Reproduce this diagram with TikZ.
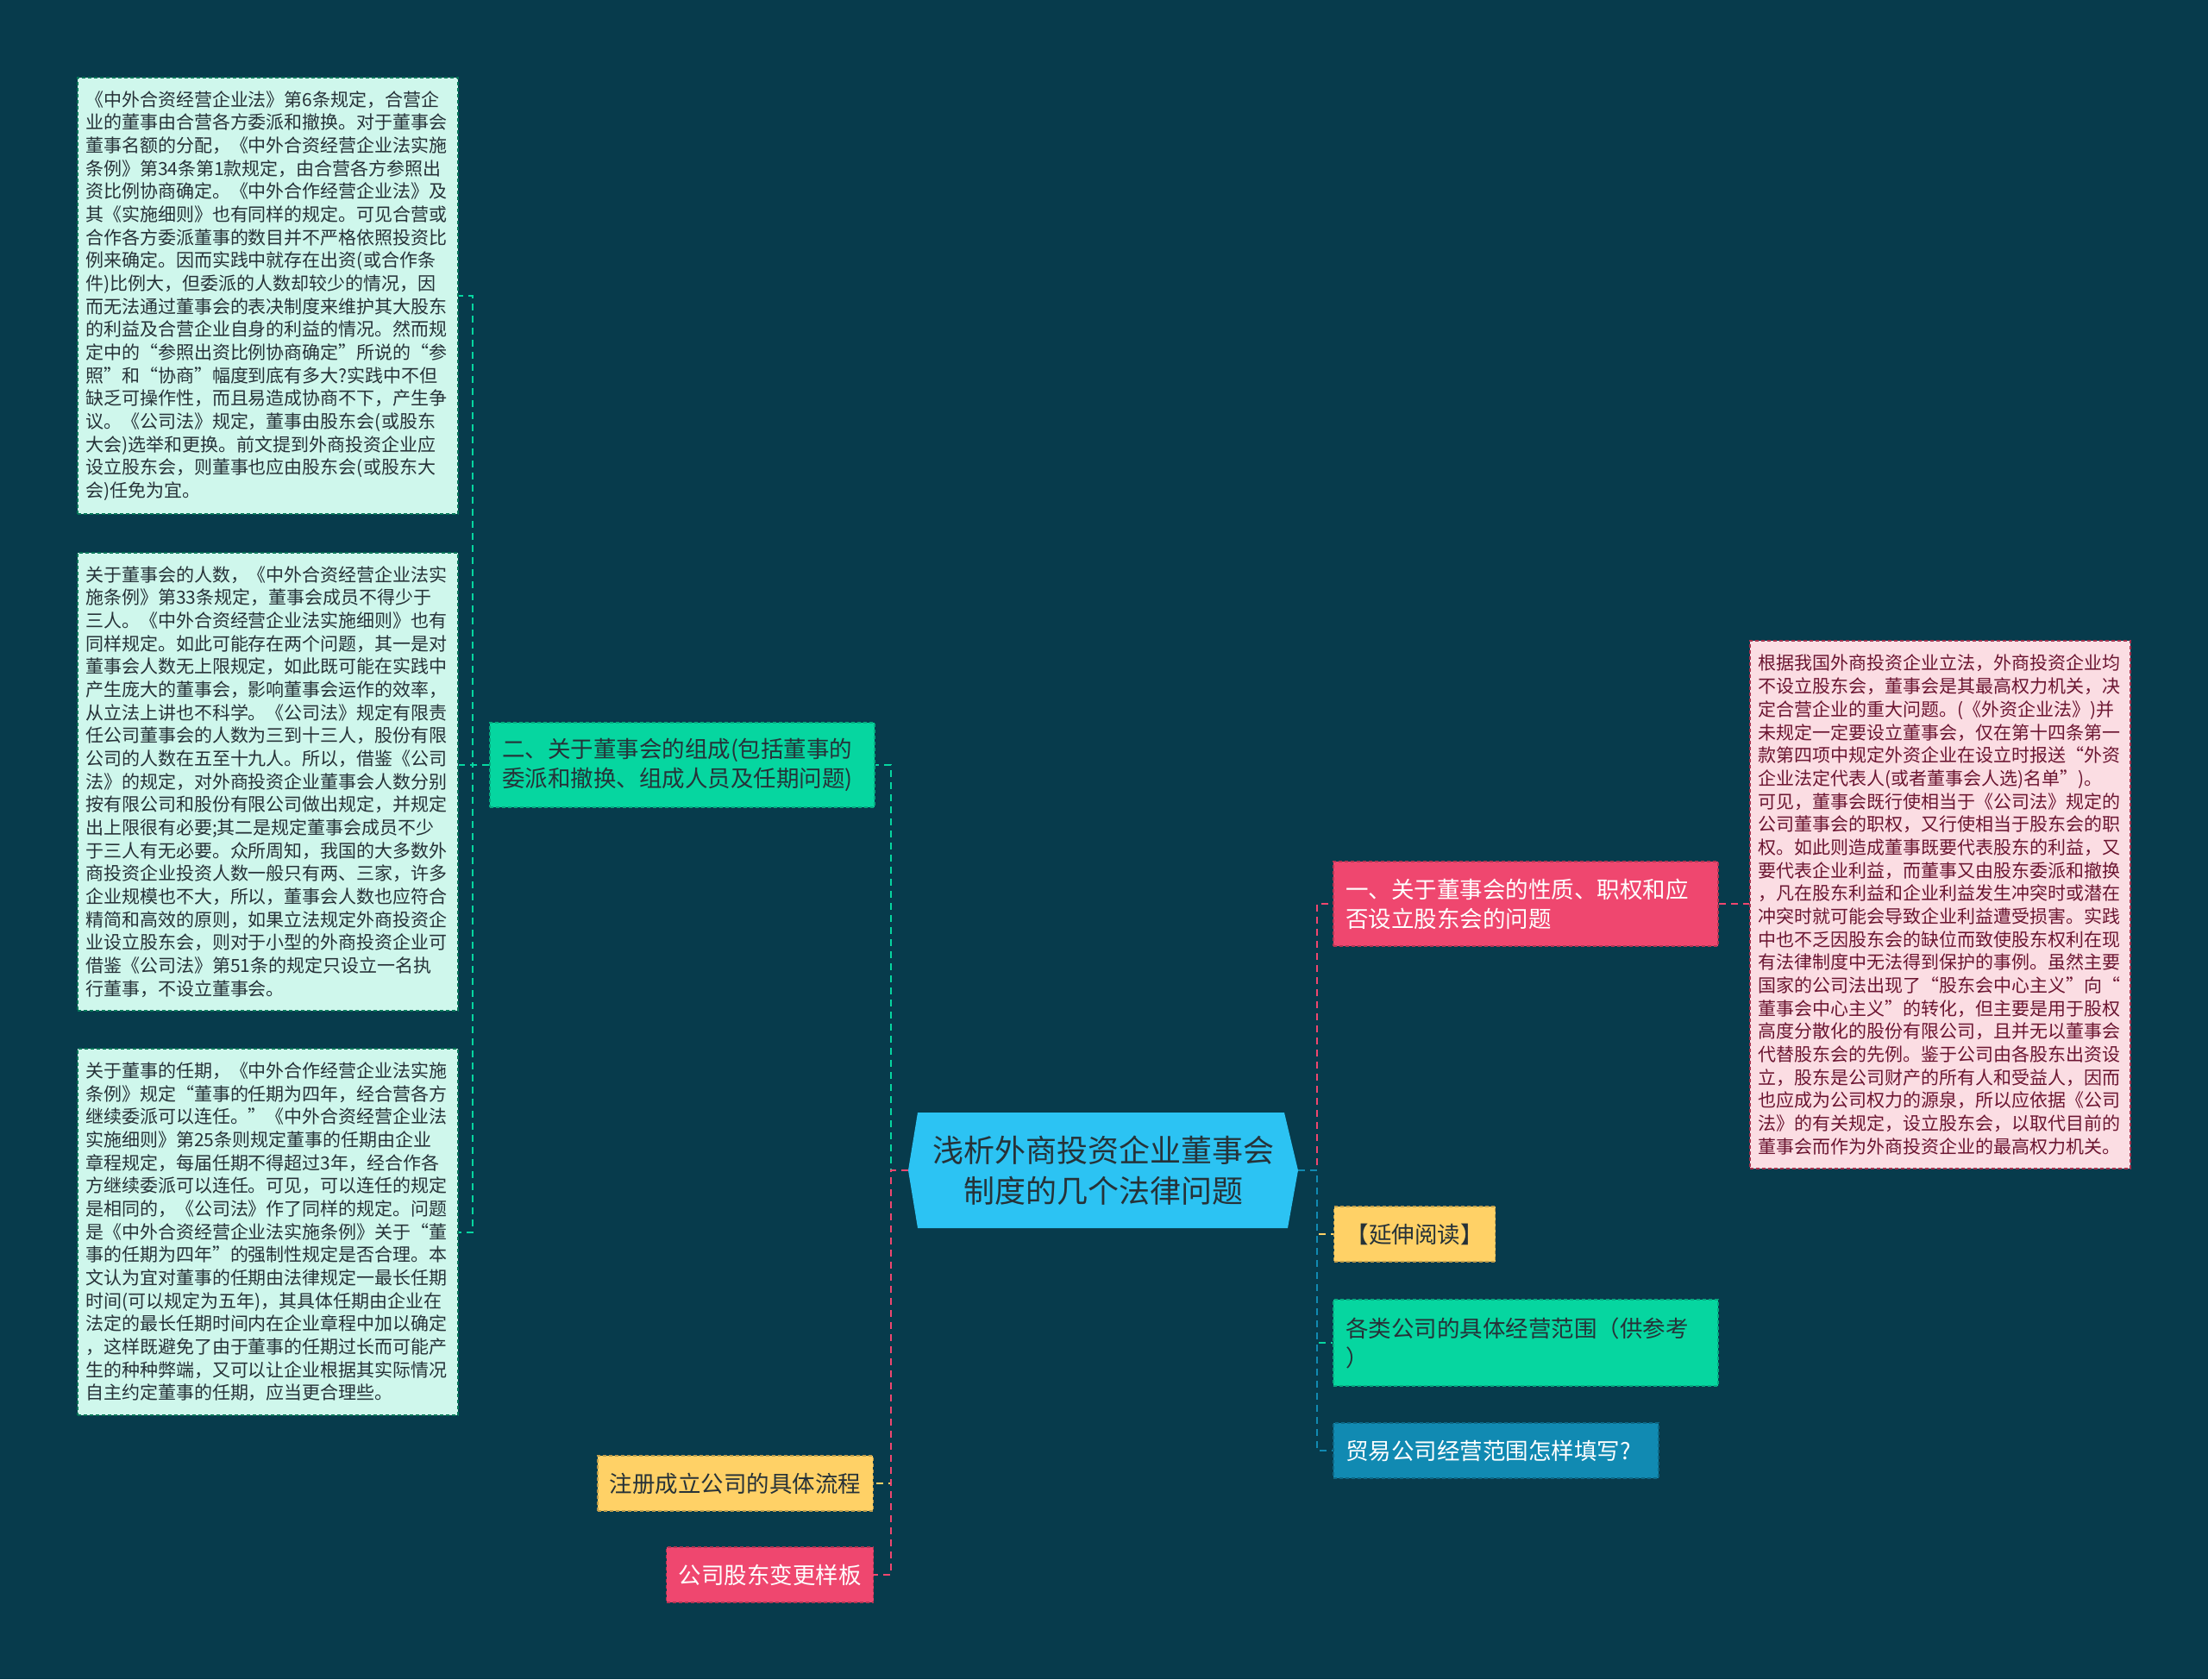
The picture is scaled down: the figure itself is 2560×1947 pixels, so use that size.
\documentclass[tikz,border=0pt]{standalone}
\usepackage{fontspec}
\setmainfont{Noto Sans CJK SC}
\definecolor{bg}{HTML}{073B4C}
\definecolor{cblue}{HTML}{2CC3F3}
\definecolor{cgreen}{HTML}{06D6A0}
\definecolor{cred}{HTML}{EF476F}
\definecolor{cyellow}{HTML}{FFD166}
\definecolor{cdblue}{HTML}{118AB2}
\definecolor{mint}{HTML}{CFF7EC}
\definecolor{pinkbox}{HTML}{FBDDE3}
\definecolor{darktext}{HTML}{263238}
\definecolor{maroon}{HTML}{6B1531}
\tikzset{
  conn/.style={line width=2pt, dash pattern=on 8pt off 6pt},
  branch/.style={rectangle, inner xsep=14pt, inner ysep=0pt, minimum height=64pt,
    font=\fontsize{26.5}{34}\selectfont, line width=1.5pt, dash pattern=on 4pt off 3pt},
  notebox/.style={rectangle, inner xsep=9pt, inner ysep=0pt, minimum width=441pt,
    text width=423pt, align=left, font=\fontsize{21}{26.67}\selectfont,
    line width=1.5pt, dash pattern=on 4pt off 3pt},
}
\begin{document}
\begin{tikzpicture}[x=1pt,y=-1pt]
\fill[bg] (0,0) rectangle (2560,1947);
\useasboundingbox (0,0) rectangle (2560,1947);

% central topic
\fill[cblue] (1064,1290) -- (1489,1290) -- (1505,1357) -- (1493,1424) -- (1064,1424) -- (1053,1357) -- cycle;
\node[minimum width=452pt, minimum height=134pt, inner sep=0pt, align=center,
  font=\fontsize{36}{47}\selectfont, text=darktext] (c) at (1279,1357)
  {浅析外商投资企业董事会\\制度的几个法律问题};

% left branch
\node[branch, fill=cgreen, draw=cgreen!80!black, text=darktext, minimum width=446pt,
  minimum height=98pt, text width=418pt, align=left] (n2) at (791,887)
  {二、关于董事会的组成(包括董事的\\委派和撤换、组成人员及任期问题)};
\node[branch, fill=cyellow, draw=cyellow!75!black, text=darktext] (n3) at (852.5,1720) {注册成立公司的具体流程};
\node[branch, fill=cred, draw=cred!75!black, text=white] (n4) at (892.5,1826) {公司股东变更样板};

% right branches
\node[branch, fill=cred, draw=cred!75!black, text=white, minimum width=446pt,
  minimum height=98pt, text width=418pt, align=left] (n1) at (1769,1048)
  {一、关于董事会的性质、职权和应\\否设立股东会的问题};
\node[branch, fill=cyellow, draw=cyellow!75!black, text=darktext] (n5) at (1640,1431) {【延伸阅读】};
\node[branch, fill=cgreen, draw=cgreen!80!black, text=darktext, minimum width=446pt,
  minimum height=100pt, text width=418pt, align=left] (n6) at (1769,1557)
  {各类公司的具体经营范围（供参考\\）};
\node[branch, fill=cdblue, draw=cdblue!75!black, text=white, minimum width=377pt,
  text width=349pt, align=left] (n7) at (1734.5,1682) {贸易公司经营范围怎样填写?};

% note boxes
\node[notebox, fill=mint, draw=cgreen!55!black, text=darktext, minimum height=506pt] (t1) at (310.5,343)
{《中外合资经营企业法》第6条规定，合营企\\
业的董事由合营各方委派和撤换。对于董事会\\
董事名额的分配，《中外合资经营企业法实施\\
条例》第34条第1款规定，由合营各方参照出\\
资比例协商确定。《中外合作经营企业法》及\\
其《实施细则》也有同样的规定。可见合营或\\
合作各方委派董事的数目并不严格依照投资比\\
例来确定。因而实践中就存在出资(或合作条\\
件)比例大，但委派的人数却较少的情况，因\\
而无法通过董事会的表决制度来维护其大股东\\
的利益及合营企业自身的利益的情况。然而规\\
定中的“参照出资比例协商确定”所说的“参\\
照”和“协商”幅度到底有多大?实践中不但\\
缺乏可操作性，而且易造成协商不下，产生争\\
议。《公司法》规定，董事由股东会(或股东\\
大会)选举和更换。前文提到外商投资企业应\\
设立股东会，则董事也应由股东会(或股东大\\
会)任免为宜。};

\node[notebox, fill=mint, draw=cgreen!55!black, text=darktext, minimum height=531pt] (t2) at (310.5,906.5)
{关于董事会的人数，《中外合资经营企业法实\\
施条例》第33条规定，董事会成员不得少于\\
三人。《中外合资经营企业法实施细则》也有\\
同样规定。如此可能存在两个问题，其一是对\\
董事会人数无上限规定，如此既可能在实践中\\
产生庞大的董事会，影响董事会运作的效率，\\
从立法上讲也不科学。《公司法》规定有限责\\
任公司董事会的人数为三到十三人，股份有限\\
公司的人数在五至十九人。所以，借鉴《公司\\
法》的规定，对外商投资企业董事会人数分别\\
按有限公司和股份有限公司做出规定，并规定\\
出上限很有必要;其二是规定董事会成员不少\\
于三人有无必要。众所周知，我国的大多数外\\
商投资企业投资人数一般只有两、三家，许多\\
企业规模也不大，所以，董事会人数也应符合\\
精简和高效的原则，如果立法规定外商投资企\\
业设立股东会，则对于小型的外商投资企业可\\
借鉴《公司法》第51条的规定只设立一名执\\
行董事，不设立董事会。};

\node[notebox, fill=mint, draw=cgreen!55!black, text=darktext, minimum height=425pt] (t3) at (310.5,1428.5)
{关于董事的任期，《中外合作经营企业法实施\\
条例》规定“董事的任期为四年，经合营各方\\
继续委派可以连任。”《中外合资经营企业法\\
实施细则》第25条则规定董事的任期由企业\\
章程规定，每届任期不得超过3年，经合作各\\
方继续委派可以连任。可见，可以连任的规定\\
是相同的，《公司法》作了同样的规定。问题\\
是《中外合资经营企业法实施条例》关于“董\\
事的任期为四年”的强制性规定是否合理。本\\
文认为宜对董事的任期由法律规定一最长任期\\
时间(可以规定为五年)，其具体任期由企业在\\
法定的最长任期时间内在企业章程中加以确定\\
，这样既避免了由于董事的任期过长而可能产\\
生的种种弊端，又可以让企业根据其实际情况\\
自主约定董事的任期，应当更合理些。};

\node[notebox, fill=pinkbox, draw=cred!70!black, text=maroon, minimum height=612pt] (tr) at (2249.5,1049)
{根据我国外商投资企业立法，外商投资企业均\\
不设立股东会，董事会是其最高权力机关，决\\
定合营企业的重大问题。(《外资企业法》)并\\
未规定一定要设立董事会，仅在第十四条第一\\
款第四项中规定外资企业在设立时报送“外资\\
企业法定代表人(或者董事会人选)名单”)。\\
可见，董事会既行使相当于《公司法》规定的\\
公司董事会的职权，又行使相当于股东会的职\\
权。如此则造成董事既要代表股东的利益，又\\
要代表企业利益，而董事又由股东委派和撤换\\
，凡在股东利益和企业利益发生冲突时或潜在\\
冲突时就可能会导致企业利益遭受损害。实践\\
中也不乏因股东会的缺位而致使股东权利在现\\
有法律制度中无法得到保护的事例。虽然主要\\
国家的公司法出现了“股东会中心主义”向“\\
董事会中心主义”的转化，但主要是用于股权\\
高度分散化的股份有限公司，且并无以董事会\\
代替股东会的先例。鉴于公司由各股东出资设\\
立，股东是公司财产的所有人和受益人，因而\\
也应成为公司权力的源泉，所以应依据《公司\\
法》的有关规定，设立股东会，以取代目前的\\
董事会而作为外商投资企业的最高权力机关。};

% connectors left
\draw[conn, cgreen] (c.west) -- ++(-20,0) |- (n2.east);
\draw[conn, cyellow] (c.west) -- ++(-20,0) |- (n3.east);
\draw[conn, cred] (c.west) -- ++(-20,0) |- (n4.east);
\draw[conn, cgreen] (n2.west) -- ++(-19,0) |- (t1.east);
\draw[conn, cgreen] (n2.west) -- (t2.east |- n2.west);
\draw[conn, cgreen] (n2.west) -- ++(-19,0) |- (t3.east);
% connectors right
\draw[conn, cred] (c.east) -- ++(22,0) |- (n1.west);
\draw[conn, cyellow] (c.east) -- ++(22,0) |- (n5.west);
\draw[conn, cgreen] (c.east) -- ++(22,0) |- (n6.west);
\draw[conn, cdblue] (c.east) -- ++(22,0) |- (n7.west);
\draw[conn, cred] (n1.east) -- (tr.west |- n1.east);
\end{tikzpicture}
\end{document}
